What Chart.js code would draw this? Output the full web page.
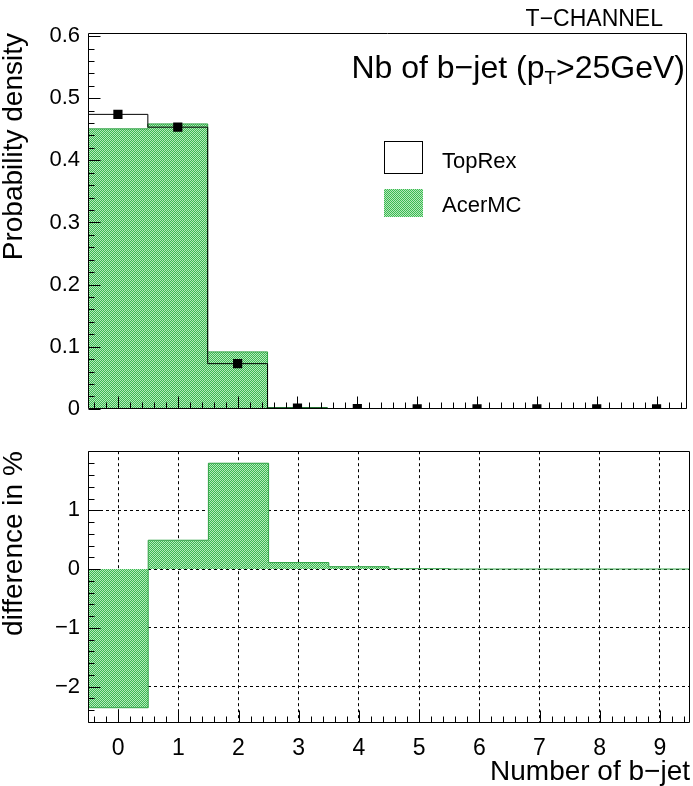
<!DOCTYPE html>
<html><head><meta charset="utf-8">
<script src="https://cdn.jsdelivr.net/npm/chart.js@4.4.0/dist/chart.umd.min.js"></script>
<style>
html,body{margin:0;padding:0;background:#fff;}
#wrap{position:relative;width:693px;height:786px;overflow:hidden;font-family:"Liberation Sans",Arial,sans-serif;color:#000;background:#fff;}
canvas{position:absolute;left:0;}
#c1{top:0;} #c2{top:430px;}
.t{position:absolute;white-space:nowrap;line-height:1;}
.sw{position:absolute;left:384px;width:39px;box-sizing:border-box;}
</style></head><body>
<div id="wrap">
<canvas id="c1" width="693" height="430"></canvas>
<canvas id="c2" width="693" height="356"></canvas>
<div class="t" style="right:30px;top:7px;font-size:23px;">T−CHANNEL</div>
<div class="t" style="right:8px;top:51px;font-size:32px;">Nb of b−jet (p<span style="font-size:19px;position:relative;top:6px;">T</span>&gt;25GeV)</div>
<div class="sw" style="top:141px;height:33px;border:1px solid #000;background:#fff;"></div>
<div class="sw" style="top:189px;height:28px;background:repeating-conic-gradient(#3cb853 0 25%, #b5eabb 0 50%) 0 0/2px 2px;"></div>
<div class="t" style="left:442px;top:150px;font-size:22px;">TopRex</div>
<div class="t" style="left:442px;top:194px;font-size:22px;">AcerMC</div>
</div>
<script>
// ---- data ----
const nbJets   = [0, 1, 2, 3, 4, 5, 6, 7, 8, 9];
const topRex   = [0.474, 0.4534, 0.0727, 0.0010, 0.0003, 0, 0, 0, 0, 0];
const acerMC   = [0.4507, 0.4586, 0.0916, 0.0020, 0.0005, 0.0001, 0, 0, 0, 0];
const diffPct  = [-2.36, 0.49, 1.80, 0.11, 0.04, 0.005, 0, 0, 0, 0];
const xTickVals    = [0, 1, 2, 3, 4, 5, 6, 7, 8, 9];
const yTopTickVals = [0, 0.1, 0.2, 0.3, 0.4, 0.5, 0.6];
const yDiffTickVals = [-2, -1, 0, 1];

const FONT = '"Liberation Sans", Arial, sans-serif';

function stepPoints(cats, vals) {
  const pts = cats.map((c, i) => ({x: c - 0.5, y: vals[i]}));
  pts.push({x: cats[cats.length - 1] + 0.5, y: 0});
  return pts;
}
function centerPoints(cats, vals) { return cats.map((c, i) => ({x: c, y: vals[i]})); }

function makePattern() {
  const c = document.createElement('canvas'); c.width = 4; c.height = 4;
  const p = c.getContext('2d');
  p.fillStyle = '#3cb853'; p.fillRect(0, 0, 4, 4);
  p.fillStyle = '#b5eabb';
  for (let y = 0; y < 4; y++) for (let x = 0; x < 4; x++) if ((x + y) % 2 === 0) p.fillRect(x, y, 1, 1);
  return p.createPattern(c, 'repeat');
}
const greenPat = makePattern();
const GREEN_LINE = '#2ea043';

function framePlugin(yMinorStep, yMinorFrom, yMinorTo) {
  return {
    id: 'frame',
    afterDatasetsDraw(chart) {
      const {ctx, chartArea: a, scales} = chart;
      ctx.save();
      ctx.strokeStyle = '#000'; ctx.lineWidth = 1;
      const L = Math.round(a.left) + 0.5, R = Math.round(a.right) - 0.5;
      const T = Math.round(a.top) + 0.5, B = Math.round(a.bottom) - 0.5;
      ctx.beginPath(); ctx.rect(L, T, R - L, B - T); ctx.stroke();
      ctx.beginPath();
      for (let k = -2; k <= 47; k++) {
        const px = Math.round(scales.x.getPixelForValue(k / 5)) + 0.5;
        const len = (k % 5 === 0) ? 12 : 6;
        ctx.moveTo(px, B); ctx.lineTo(px, B - len);
      }
      for (let k = yMinorFrom; k <= yMinorTo; k++) {
        const py = Math.round(scales.y.getPixelForValue(k * yMinorStep)) + 0.5;
        const len = (k % 5 === 0) ? 12 : 6;
        ctx.moveTo(L, py); ctx.lineTo(L + len, py);
      }
      ctx.stroke();
      ctx.restore();
    }
  };
}

const fmt = v => String(Math.round(v * 10) / 10).replace('-', '\u2212');

// ---- top panel ----
new Chart(document.getElementById('c1'), {
  type: 'line',
  data: {
    datasets: [
      { label: 'TopRex markers', data: centerPoints(nbJets, topRex), showLine: false,
        pointStyle: 'rect', pointRadius: 6.5, pointBackgroundColor: '#000', pointBorderWidth: 0, clip: 0 },
      { label: 'TopRex', data: stepPoints(nbJets, topRex), stepped: 'before', borderColor: '#000',
        borderWidth: 1, pointRadius: 0, fill: false },
      { label: 'AcerMC', data: stepPoints(nbJets, acerMC), stepped: 'before', borderColor: GREEN_LINE,
        borderWidth: 1, pointRadius: 0, fill: 'origin', backgroundColor: greenPat }
    ]
  },
  options: {
    responsive: false, animation: false, events: [], devicePixelRatio: 1,
    layout: { padding: { top: 33, right: 3, left: 0, bottom: 0 } },
    plugins: { legend: { display: false }, tooltip: { enabled: false } },
    scales: {
      x: { type: 'linear', min: -0.5, max: 9.5, grid: { display: false, drawTicks: false }, border: { display: false },
           ticks: { display: false },
           afterBuildTicks: s => { s.ticks = xTickVals.map(v => ({value: v})); },
           afterFit: s => { s.height = 14; } },
      y: { type: 'linear', min: 0, max: 0.605, grid: { display: false, drawTicks: false }, border: { display: false },
           ticks: { color: '#000', padding: 8, font: { family: FONT, size: 22 }, callback: v => fmt(v) },
           afterBuildTicks: s => { s.ticks = yTopTickVals.map(v => ({value: v})); },
           title: { display: true, text: 'Probability density', align: 'end', color: '#000',
                    font: { family: FONT, size: 28, lineHeight: 1 }, padding: 0 },
           afterFit: s => { s.width = 88; } }
    }
  },
  plugins: [framePlugin(0.02, 0, 30)]
});

// ---- lower panel ----
new Chart(document.getElementById('c2'), {
  type: 'line',
  data: {
    datasets: [
      { label: 'difference', data: stepPoints(nbJets, diffPct), stepped: 'before', borderColor: GREEN_LINE,
        borderWidth: 1, pointRadius: 0, fill: 'origin', backgroundColor: greenPat }
    ]
  },
  options: {
    responsive: false, animation: false, events: [], devicePixelRatio: 1,
    layout: { padding: { top: 10, right: 3, left: 0, bottom: 0 } },
    plugins: { legend: { display: false }, tooltip: { enabled: false } },
    scales: {
      x: { type: 'linear', min: -0.5, max: 9.5,
           grid: { display: true, color: '#000', lineWidth: 1, drawTicks: false },
           border: { display: false, dash: [3, 3] },
           ticks: { color: '#000', padding: 12, font: { family: FONT, size: 23 }, callback: v => fmt(v) },
           afterBuildTicks: s => { s.ticks = xTickVals.map(v => ({value: v})); },
           title: { display: true, text: 'Number of b\u2212jet', align: 'end', color: '#000',
                    font: { family: FONT, size: 28, lineHeight: 1 }, padding: 0 },
           afterFit: s => { s.height = 63; } },
      y: { type: 'linear', min: -2.62, max: 2.005,
           grid: { display: true, color: '#000', lineWidth: 1, drawTicks: false },
           border: { display: false, dash: [3, 3] },
           ticks: { color: '#000', padding: 8, font: { family: FONT, size: 22 }, callback: v => fmt(v) },
           afterBuildTicks: s => { s.ticks = yDiffTickVals.map(v => ({value: v})); },
           title: { display: true, text: 'difference in %', align: 'end', color: '#000',
                    font: { family: FONT, size: 28, lineHeight: 1 }, padding: 0 },
           afterFit: s => { s.width = 88; } }
    }
  },
  plugins: [framePlugin(0.2, -13, 10)]
});
</script>
</body></html>
